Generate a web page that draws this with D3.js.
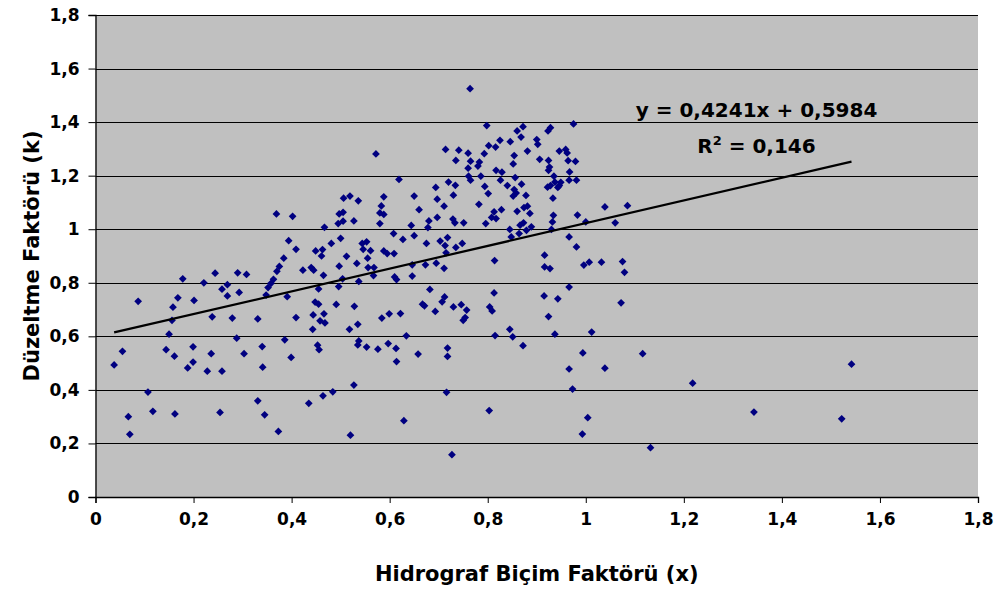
<!DOCTYPE html>
<html>
<head>
<meta charset="utf-8">
<script src="https://cdn.jsdelivr.net/npm/d3@7"></script>
<style>
  body { margin: 0; background: #fff; }
  text { font-family: "DejaVu Sans", sans-serif; font-weight: bold; fill: #000; }
</style>
</head>
<body>
<div id="chart"></div>
<script>
// Hidrograf biçim faktörü (x) and düzeltme faktörü (k) for each event
const hidrografX = [
  0.087,0.178,0.168,0.158,0.156,0.201,0.221,0.244,0.258,0.269,0.269,0.290,0.308,0.293,0.238,
  0.279,0.331,0.348,0.352,0.358,0.363,0.370,0.375,0.384,0.369,0.402,0.394,0.409,0.391,0.423,
  0.150,0.055,0.038,0.144,0.161,0.199,0.199,0.188,0.236,0.228,0.258,0.288,0.303,0.340,0.341,
  0.107,0.117,0.067,0.070,0.162,0.254,0.331,0.345,0.373,
  0.619,0.506,0.519,0.536,0.588,0.583,0.650,0.660,0.497,0.505,0.495,0.505,0.527,0.580,0.588,
  0.580,0.467,0.644,0.680,0.678,0.608,0.627,0.650,0.675,0.481,0.500,0.449,0.463,0.461,0.512,
  0.544,0.553,0.546,0.561,0.588,0.595,0.609,0.440,0.445,0.465,0.497,0.533,0.555,0.556,0.568,
  0.567,0.504,0.496,0.455,0.537,0.610,0.614,0.646,0.646,0.673,0.682,0.448,0.455,0.491,0.528,
  0.667,0.671,0.409,0.444,0.466,0.458,0.468,0.584,0.599,0.622,0.535,0.443,0.518,
  0.386,0.399,0.453,0.456,0.537,0.535,0.553,0.576,0.597,0.613,0.634,0.614,0.658,0.527,0.484,
  0.464,0.435,0.520,0.629,
  0.764,0.798,0.860,0.872,0.923,0.928,0.975,0.868,0.846,0.900,0.902,0.825,0.802,0.816,0.714,
  0.741,0.760,0.793,0.881,0.946,0.959,0.962,0.854,0.735,0.765,0.783,0.780,0.906,0.924,0.964,
  0.979,0.852,0.760,0.817,0.829,0.826,0.926,0.924,0.967,0.761,0.765,0.786,0.856,0.935,
  0.937,0.966,0.981,0.720,0.734,0.694,0.794,0.840,0.869,0.922,0.928,0.946,0.943,0.949,0.854,
  0.858,0.730,0.801,0.852,0.878,0.697,0.933,0.711,0.782,0.874,0.881,0.828,0.813,0.860,0.886,
  0.934,0.983,0.697,0.729,0.808,0.817,
  0.733,0.751,0.796,0.932,0.845,0.848,0.866,0.873,0.889,0.879,0.864,0.930,0.966,0.981,0.703,
  0.718,0.713,0.735,0.748,0.715,0.695,0.711,0.814,0.916,0.916,0.927,0.712,0.707,0.693,0.730,
  0.746,0.757,0.754,0.750,0.813,0.804,0.809,0.915,0.943,0.966,0.924,0.815,0.845,0.851,0.937,
  0.872,0.718,0.718,0.716,0.803,0.966,0.973,0.727,0.993,
  1.039,1.085,1.000,1.060,0.996,1.007,1.032,1.075,1.079,1.072,
  1.012,0.994,1.116,1.039,1.218,1.542,1.004,1.132,1.343,1.522,0.572
];
const duzeltmeK = [
  0.731,0.815,0.744,0.709,0.660,0.734,0.800,0.836,0.776,0.793,0.751,0.837,0.831,0.764,0.673,
  0.668,0.665,0.754,0.782,0.798,0.813,0.843,0.861,0.892,1.057,1.048,0.957,0.925,0.748,0.847,
  0.608,0.544,0.493,0.550,0.526,0.561,0.504,0.482,0.535,0.470,0.470,0.593,0.535,0.562,0.485,
  0.392,0.320,0.300,0.234,0.310,0.316,0.359,0.307,0.245,
  1.186,1.116,1.124,1.106,1.121,1.087,1.124,1.073,1.057,1.063,1.021,1.030,1.031,1.061,1.055,
  1.021,1.007,1.014,1.031,1.006,0.984,0.962,0.976,0.947,0.947,0.966,0.919,0.924,0.900,0.899,
  0.947,0.953,0.925,0.920,0.919,0.909,0.909,0.857,0.847,0.828,0.862,0.872,0.892,0.857,0.857,
  0.827,0.815,0.786,0.777,0.805,0.822,0.812,0.867,0.825,0.867,0.775,0.728,0.720,0.719,0.712,
  0.720,0.714,0.670,0.680,0.684,0.658,0.650,0.668,0.684,0.685,0.645,0.626,0.626,
  0.587,0.521,0.567,0.550,0.583,0.568,0.560,0.552,0.573,0.555,0.602,0.506,0.534,0.418,0.393,
  0.378,0.350,0.231,0.285,
  1.525,1.387,1.367,1.383,1.367,1.379,1.393,1.344,1.327,1.335,1.317,1.332,1.312,1.307,1.298,
  1.295,1.284,1.282,1.292,1.292,1.298,1.285,1.275,1.257,1.254,1.251,1.236,1.261,1.257,1.256,
  1.253,1.244,1.228,1.220,1.213,1.183,1.232,1.220,1.214,1.198,1.183,1.198,1.193,1.198,
  1.176,1.183,1.183,1.176,1.164,1.156,1.160,1.163,1.168,1.157,1.163,1.163,1.156,1.175,1.148,
  1.135,1.127,1.133,1.124,1.126,1.112,1.116,1.086,1.093,1.081,1.086,1.073,1.065,1.067,1.059,
  1.052,1.053,1.044,1.038,1.044,1.040,
  1.024,1.024,1.021,1.027,0.999,0.971,1.015,1.024,1.009,0.996,0.984,0.999,0.971,0.934,0.956,
  0.969,0.939,0.932,0.947,0.912,0.873,0.854,0.883,0.903,0.859,0.853,0.747,0.729,0.693,0.710,
  0.718,0.698,0.670,0.660,0.762,0.710,0.695,0.751,0.740,0.784,0.674,0.603,0.626,0.598,0.608,
  0.565,0.556,0.525,0.391,0.323,0.478,0.403,0.158,0.235,
  1.083,1.088,1.027,1.024,0.866,0.877,0.877,0.879,0.839,0.725,
  0.616,0.538,0.535,0.481,0.425,0.496,0.296,0.184,0.317,0.292,1.281
];

const xTicks = [0, 0.2, 0.4, 0.6, 0.8, 1, 1.2, 1.4, 1.6, 1.8];
const yTicks = [0, 0.2, 0.4, 0.6, 0.8, 1, 1.2, 1.4, 1.6, 1.8];

// linear trend line reported on the chart
const slope = 0.4241;
const intercept = 0.5984;
const equationText = "y = 0,4241x + 0,5984";
const r2Text = "0,146";

const xTitle = "Hidrograf Biçim Faktörü (x)";
const yTitle = "Düzeltme Faktörü (k)";

const margin = { top: 15, right: 22, bottom: 92, left: 95.5 };
const width = 1000 - margin.left - margin.right;
const height = 589 - margin.top - margin.bottom;

const svg = d3.select("#chart")
  .append("svg")
  .attr("width", 1000)
  .attr("height", 589)
  .append("g")
  .attr("transform", `translate(${margin.left}, ${margin.top})`);

const xScale = d3.scaleLinear().domain([0, 1.8]).range([0, width]);
const yScale = d3.scaleLinear().domain([0, 1.8]).range([height, 0]);

const trFormat = d3.formatLocale({ decimal: ",", thousands: ".", grouping: [3], currency: ["", ""] }).format(".1~f");

// plot background
svg.append("rect")
  .attr("width", width)
  .attr("height", height)
  .attr("fill", "#c0c0c0");

// horizontal gridlines
svg.selectAll(".grid")
  .data(yTicks.filter(d => d > 0))
  .enter()
  .append("line")
  .attr("class", "grid")
  .attr("x1", 0)
  .attr("x2", width)
  .attr("y1", d => Math.round(yScale(d)) + 0.5)
  .attr("y2", d => Math.round(yScale(d)) + 0.5)
  .attr("stroke", "#000")
  .attr("stroke-width", 1);

// axes
const xAxis = svg.append("g")
  .attr("transform", `translate(0, ${height})`)
  .call(d3.axisBottom(xScale).tickValues(xTicks).tickFormat(trFormat).tickSizeOuter(0).tickSize(6).tickPadding(10));

const yAxis = svg.append("g")
  .call(d3.axisLeft(yScale).tickValues(yTicks).tickFormat(trFormat).tickSizeOuter(0).tickSize(7).tickPadding(9));

[xAxis, yAxis].forEach(a => {
  a.select(".domain").attr("stroke", "#000").attr("stroke-width", 1.3);
  a.selectAll(".tick line").attr("stroke", "#000");
  a.selectAll(".tick text")
    .style("font-family", "'DejaVu Sans', sans-serif")
    .style("font-weight", "bold")
    .style("font-size", "17px")
    .attr("fill", "#000");
});

// points
const points = hidrografX.map((x, i) => ({ x: x, k: duzeltmeK[i] }));

svg.selectAll(".pt")
  .data(points)
  .enter()
  .append("path")
  .attr("class", "pt")
  .attr("d", d3.symbol(d3.symbolSquare, 30))
  .attr("transform", d => `translate(${xScale(d.x)}, ${yScale(d.k)}) rotate(45)`)
  .attr("fill", "#000080");

// trend line over the range of x
const xExt = d3.extent(hidrografX);
svg.append("line")
  .attr("x1", xScale(xExt[0]))
  .attr("y1", yScale(slope * xExt[0] + intercept))
  .attr("x2", xScale(xExt[1]))
  .attr("y2", yScale(slope * xExt[1] + intercept))
  .attr("stroke", "#000")
  .attr("stroke-width", 2.2);

// equation labels
svg.append("text")
  .attr("x", 661)
  .attr("y", 102)
  .attr("text-anchor", "middle")
  .style("font-size", "20px")
  .text(equationText);

const r2 = svg.append("text")
  .attr("x", 661)
  .attr("y", 138)
  .attr("text-anchor", "middle")
  .style("font-size", "20px");
r2.append("tspan").text("R");
r2.append("tspan").attr("dy", -8).style("font-size", "13px").text("2");
r2.append("tspan").attr("dy", 8).text(" = " + r2Text);

// axis titles
svg.append("text")
  .attr("x", width / 2)
  .attr("y", height + 84)
  .attr("text-anchor", "middle")
  .style("font-size", "21px")
  .text(xTitle);

svg.append("text")
  .attr("transform", "rotate(-90)")
  .attr("x", -height / 2)
  .attr("y", -57)
  .attr("text-anchor", "middle")
  .style("font-size", "21px")
  .text(yTitle);
</script>
</body>
</html>
